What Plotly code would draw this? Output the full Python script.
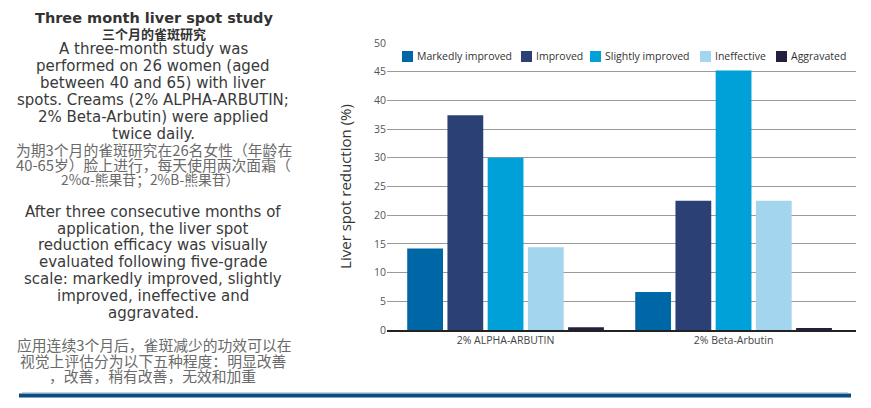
import plotly.graph_objects as go

categories = ["2% ALPHA-ARBUTIN", "2% Beta-Arbutin"]
series_names = ["Markedly improved", "Improved", "Slightly improved", "Ineffective", "Aggravated"]
markedly = [14.2, 6.6]
improved = [37.4, 22.5]
slightly = [30.0, 45.2]
ineffective = [14.4, 22.5]
aggravated = [0.5, 0.3]
series_values = [markedly, improved, slightly, ineffective, aggravated]
colors = ["#0067A7", "#2B4176", "#00A0D8", "#A4D5EE", "#241F40"]
y_ticks = [0, 5, 10, 15, 20, 25, 30, 35, 40, 45, 50]

W, H = 871, 408
L, R, T, B = 387, 15, 43, 78
PW, PH = W - L - R, H - T - B


def px(x):
    return (x - L) / PW


def py(y):
    return (H - B - y) / PH


fig = go.Figure()
for name, vals, col in zip(series_names, series_values, colors):
    fig.add_trace(go.Bar(x=categories, y=vals, name=name, marker_color=col,
                         marker_line_width=0, showlegend=False))

annotations = []
shapes = []

# manual legend (squares + labels)
legend_left = [402, 521, 590, 700, 776]
for name, col, lx in zip(series_names, colors, legend_left):
    shapes.append(dict(type="rect", xref="paper", yref="paper",
                       x0=px(lx), x1=px(lx + 11), y0=py(62), y1=py(51),
                       fillcolor=col, line_width=0))
    annotations.append(dict(text=name, xref="paper", yref="paper",
                            x=px(lx + 13), y=py(56.5), xanchor="left", yanchor="middle",
                            showarrow=False,
                            font=dict(family="Open Sans", size=10.5, color="#333333")))

# left text block
EN = dict(family="DejaVu Sans", size=15, color="#3a3a3a")
CN = dict(family="Noto Sans CJK SC", size=14.8, color="#6a6a6a")
CN2 = dict(family="Noto Sans CJK SC", size=13.8, color="#6a6a6a")
lines = [
    ("<b>Three month liver spot study</b>", 18, 154, dict(family="DejaVu Sans", size=14.5, color="#333333")),
    ("<b>三个月的雀斑研究</b>", 33, 154, dict(family="Noto Sans CJK SC", size=13, color="#333333")),
    ("A three-month study was", 49, 153, EN),
    ("performed on 26 women (aged", 66, 153, EN),
    ("between 40 and 65) with liver", 83, 153, EN),
    ("spots. Creams (2% ALPHA-ARBUTIN;", 100, 153, EN),
    ("2% Beta-Arbutin) were applied", 117, 153, EN),
    ("twice daily.", 134, 153, EN),
    ("为期3个月的雀斑研究在26名女性（年龄在", 149, 154, CN),
    ("40-65岁）脸上进行，每天使用两次面霜（", 164, 153, CN),
    ("2%α-熊果苷；2%B-熊果苷）", 179, 150, CN2),
    ("After three consecutive months of", 212, 153, EN),
    ("application, the liver spot", 229, 153, EN),
    ("reduction efficacy was visually", 245, 153, EN),
    ("evaluated following five-grade", 262, 153, EN),
    ("scale: markedly improved, slightly", 279, 153, EN),
    ("improved, ineffective and", 296, 153, EN),
    ("aggravated.", 313, 153, EN),
    ("应用连续3个月后，雀斑减少的功效可以在", 344, 154, CN),
    ("视觉上评估分为以下五种程度：明显改善", 360, 153, CN),
    ("，改善，稍有改善，无效和加重", 375, 152, CN),
]
for txt, yy, xx, f in lines:
    annotations.append(dict(text=txt, xref="paper", yref="paper", x=px(xx), y=py(yy),
                            xanchor="center", yanchor="middle", showarrow=False, font=f))

# bottom decorative bar
shapes.append(dict(type="rect", xref="paper", yref="paper", x0=px(19), x1=px(851),
                   y0=py(397.5), y1=py(393.5), fillcolor="#0B4C82", line_width=0))
shapes.append(dict(type="line", xref="paper", yref="paper", x0=px(22), x1=px(848),
                   y0=py(393), y1=py(393), line=dict(color="#7FAAD0", width=1)))

fig.update_layout(
    width=W, height=H,
    margin=dict(l=L, r=R, t=T, b=B, pad=0),
    paper_bgcolor="white", plot_bgcolor="white",
    barmode="group", bargap=0.118, bargroupgap=0.11,
    showlegend=False,
    annotations=annotations, shapes=shapes,
    xaxis=dict(type="category", range=[-0.52, 1.537], showgrid=False,
               showline=True, linecolor="#222222", linewidth=1.5,
               ticks="", tickfont=dict(family="Open Sans", size=10.5, color="#444444")),
    yaxis=dict(range=[0, 50], tickvals=y_ticks, showgrid=True, gridcolor="#9a9a9a",
               gridwidth=1, zeroline=False, showline=False, ticks="",
               tickfont=dict(family="Open Sans", size=10.5, color="#555555"),
               title=dict(text="Liver spot reduction (%)", standoff=18,
                          font=dict(family="Open Sans", size=15, color="#333333"))),
)

fig.write_html("out.html")
